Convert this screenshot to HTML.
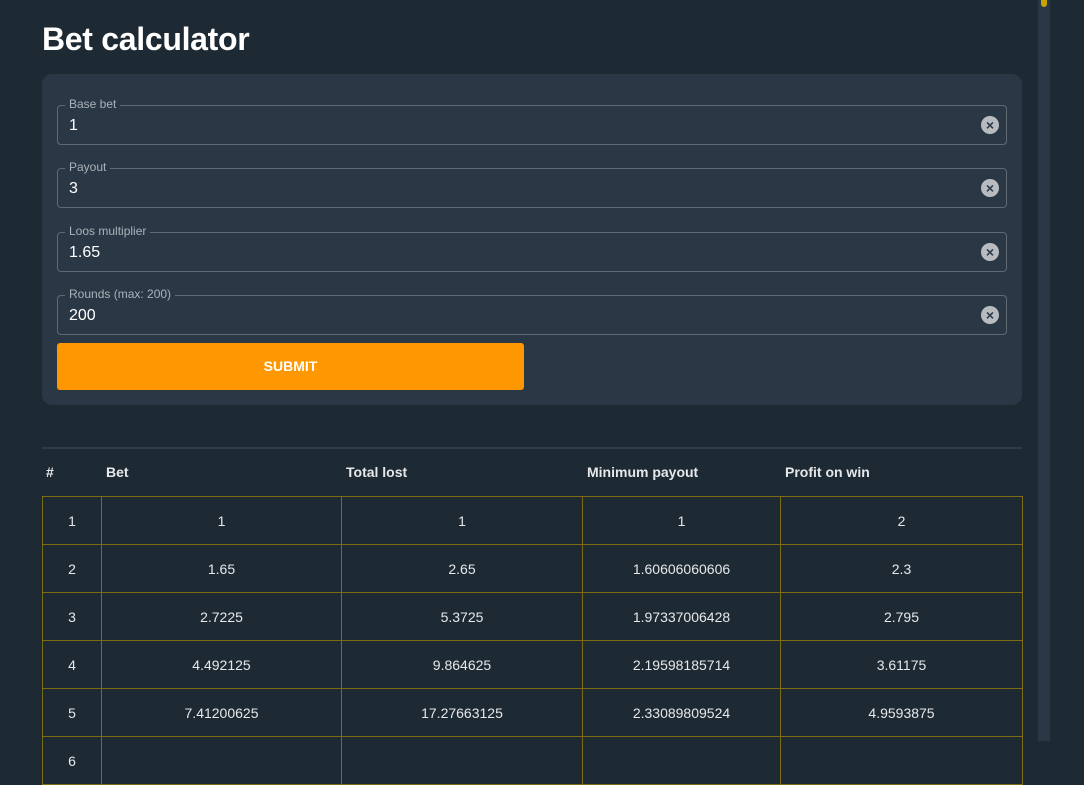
<!DOCTYPE html>
<html><head><style>
*{box-sizing:border-box;margin:0;padding:0}
body{width:1084px;height:741px;overflow:hidden;background:#1e2a33;font-family:"Liberation Sans",Arial,sans-serif;color:#fff;position:relative}
h1{position:absolute;left:42px;top:21px;font-size:32px;font-weight:bold;color:#fff;letter-spacing:-0.3px}
.card{position:absolute;left:42px;top:74px;width:980px;height:331px;background:#2a3845;border-radius:10px}
.f{position:absolute;left:15px;width:950px;height:40px;border:1px solid #5f6a73;border-radius:4px}
.f .l{position:absolute;left:7px;top:-9px;font-size:12px;color:#aab2b9;background:#2a3845;padding:0 4px}
.f .v{position:absolute;left:11px;top:11px;font-size:16px;color:#fff}
.f .x{position:absolute;right:7px;top:10px;width:18px;height:18px;border-radius:50%;background:#b8bcc0;color:#2a3845;font-size:14px;line-height:18px;text-align:center;font-weight:bold}
.btn{position:absolute;left:15px;top:269px;width:467px;height:47px;background:#ff9800;border-radius:3px;color:#fff;font-weight:bold;font-size:14px;text-align:center;line-height:47px}
.hr{position:absolute;left:42px;top:447px;width:980px;height:2px;background:#2f3b45}
.th{position:absolute;top:464px;font-size:14px;font-weight:bold;color:#e6e8ea}
table{position:absolute;left:42px;top:496px;border-collapse:collapse;font-size:14px;color:#e6e8ea}
td{border:1px solid #7d6d12;height:48px;text-align:center}
.sb{position:absolute;left:1038px;top:0;width:12px;height:741px;background:#2a3845}
.th2{position:absolute;left:1041px;top:0;width:6px;height:7px;background:#c9a400;border-radius:0 0 3px 3px}
</style></head><body>
<h1>Bet calculator</h1>
<div class="card">
<div class="f" style="top:31px"><span class="l">Base bet</span><span class="v">1</span><span class="x">×</span></div>
<div class="f" style="top:94px"><span class="l">Payout</span><span class="v">3</span><span class="x">×</span></div>
<div class="f" style="top:158px"><span class="l">Loos multiplier</span><span class="v">1.65</span><span class="x">×</span></div>
<div class="f" style="top:221px"><span class="l">Rounds (max: 200)</span><span class="v">200</span><span class="x">×</span></div>
<div class="btn">SUBMIT</div>
</div>
<div class="hr"></div>
<div class="th" style="left:46px">#</div>
<div class="th" style="left:106px">Bet</div>
<div class="th" style="left:346px">Total lost</div>
<div class="th" style="left:587px">Minimum payout</div>
<div class="th" style="left:785px">Profit on win</div>
<table>
<colgroup><col style="width:59px"><col style="width:240px"><col style="width:241px"><col style="width:198px"><col style="width:242px"></colgroup>
<tr><td>1</td><td>1</td><td>1</td><td>1</td><td>2</td></tr>
<tr><td>2</td><td>1.65</td><td>2.65</td><td>1.60606060606</td><td>2.3</td></tr>
<tr><td>3</td><td>2.7225</td><td>5.3725</td><td>1.97337006428</td><td>2.795</td></tr>
<tr><td>4</td><td>4.492125</td><td>9.864625</td><td>2.19598185714</td><td>3.61175</td></tr>
<tr><td>5</td><td>7.41200625</td><td>17.27663125</td><td>2.33089809524</td><td>4.9593875</td></tr>
<tr><td>6</td><td></td><td></td><td></td><td></td></tr>
</table>
<div class="sb"></div><div class="th2"></div>
</body></html>
